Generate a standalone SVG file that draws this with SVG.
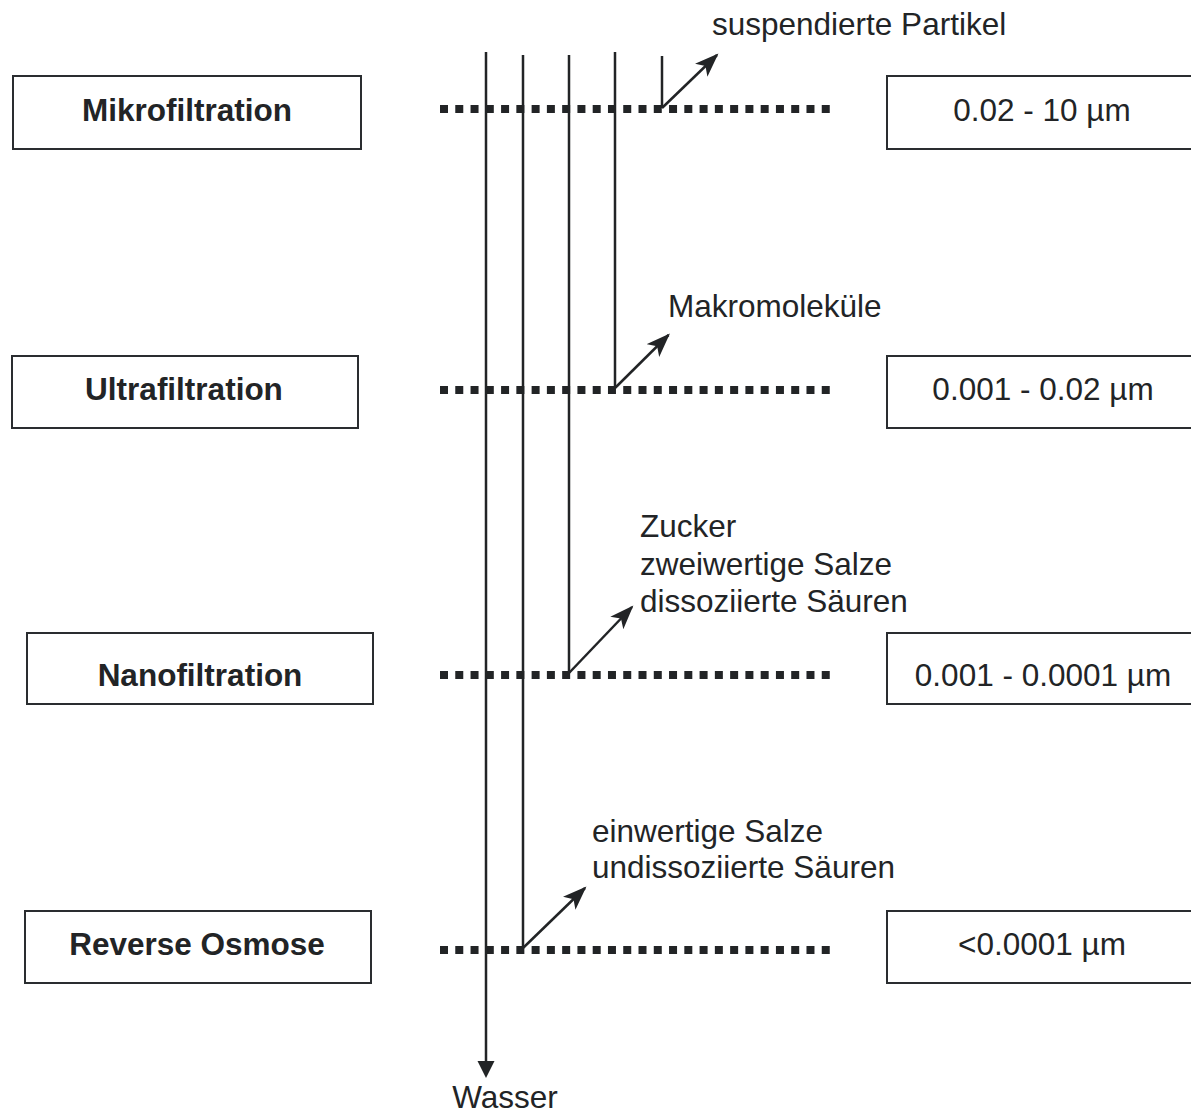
<svg xmlns="http://www.w3.org/2000/svg" width="1191" height="1117" viewBox="0 0 1191 1117">
<style>
  .box { fill: #fff; stroke: #2a2d30; stroke-width: 2; }
  .lbl { font-family: "Liberation Sans", Arial, sans-serif; font-size: 31.5px; fill: #222426; }
  .bold { font-weight: bold; }
  .mid { text-anchor: middle; }
  .vline { stroke: #222426; stroke-width: 2.5; fill: none; }
  .dots { stroke: #222426; stroke-width: 8; stroke-dasharray: 8 7.27; fill: none; }
  .arr { stroke: #222426; stroke-width: 2.5; fill: none; marker-end: url(#ah); }
</style>
<defs>
  <marker id="ah" markerUnits="userSpaceOnUse" markerWidth="26" markerHeight="20" refX="22" refY="9" orient="auto">
    <path d="M0,0 L24,9 L0,18 L6,9 Z" fill="#222426"/>
  </marker>
</defs>
<rect width="1191" height="1117" fill="#fff"/>

<g id="membranes">
  <line class="dots" x1="440" y1="109" x2="830" y2="109"/>
  <line class="dots" x1="440" y1="390" x2="830" y2="390"/>
  <line class="dots" x1="440" y1="675" x2="830" y2="675"/>
  <line class="dots" x1="440" y1="950" x2="830" y2="950"/>
</g>

<g id="connectors">
  <line class="vline" x1="486" y1="52" x2="486" y2="1063" stroke="#3a3d40"/>
  <polygon points="477.5,1061 494.5,1061 486,1078" fill="#222426"/>
  <line class="vline" x1="523" y1="55" x2="523" y2="948"/>
  <line class="vline" x1="569" y1="55" x2="569" y2="673"/>
  <line class="vline" x1="615" y1="52" x2="615" y2="388"/>
  <line class="vline" x1="662" y1="56" x2="662" y2="108"/>
  <line class="arr" x1="662" y1="108" x2="717" y2="55"/>
  <line class="arr" x1="615" y1="388" x2="668.5" y2="335"/>
  <line class="arr" x1="569" y1="673" x2="632" y2="607"/>
  <line class="arr" x1="523" y1="948" x2="585" y2="888"/>
</g>

<g id="mikrofiltration">
  <rect class="box" x="13" y="76" width="348" height="73"/>
  <text class="lbl bold mid" x="187" y="121">Mikrofiltration</text>
</g>
<g id="mikro-range">
  <rect class="box" x="887" y="76" width="320" height="73"/>
  <text class="lbl mid" x="1042" y="121">0.02 - 10 µm</text>
</g>

<g id="ultrafiltration">
  <rect class="box" x="12" y="356" width="346" height="72"/>
  <text class="lbl bold mid" x="184" y="400">Ultrafiltration</text>
</g>
<g id="ultra-range">
  <rect class="box" x="887" y="356" width="320" height="72"/>
  <text class="lbl mid" x="1043" y="400">0.001 - 0.02 µm</text>
</g>

<g id="nanofiltration">
  <rect class="box" x="27" y="633" width="346" height="71"/>
  <text class="lbl bold mid" x="200" y="686">Nanofiltration</text>
</g>
<g id="nano-range">
  <rect class="box" x="887" y="633" width="320" height="71"/>
  <text class="lbl mid" x="1043" y="686">0.001 - 0.0001 µm</text>
</g>

<g id="reverse-osmose">
  <rect class="box" x="25" y="911" width="346" height="72"/>
  <text class="lbl bold mid" x="197" y="955">Reverse Osmose</text>
</g>
<g id="ro-range">
  <rect class="box" x="887" y="911" width="320" height="72"/>
  <text class="lbl mid" x="1042" y="955">&lt;0.0001 µm</text>
</g>

<g id="labels">
  <text class="lbl" x="712" y="35">suspendierte Partikel</text>
  <text class="lbl" x="668" y="317">Makromoleküle</text>
  <text class="lbl" x="640" y="537">Zucker</text>
  <text class="lbl" x="640" y="575">zweiwertige Salze</text>
  <text class="lbl" x="640" y="612">dissoziierte Säuren</text>
  <text class="lbl" x="592" y="842">einwertige Salze</text>
  <text class="lbl" x="592" y="878">undissoziierte Säuren</text>
  <text class="lbl mid" x="505" y="1108">Wasser</text>
</g>
</svg>
